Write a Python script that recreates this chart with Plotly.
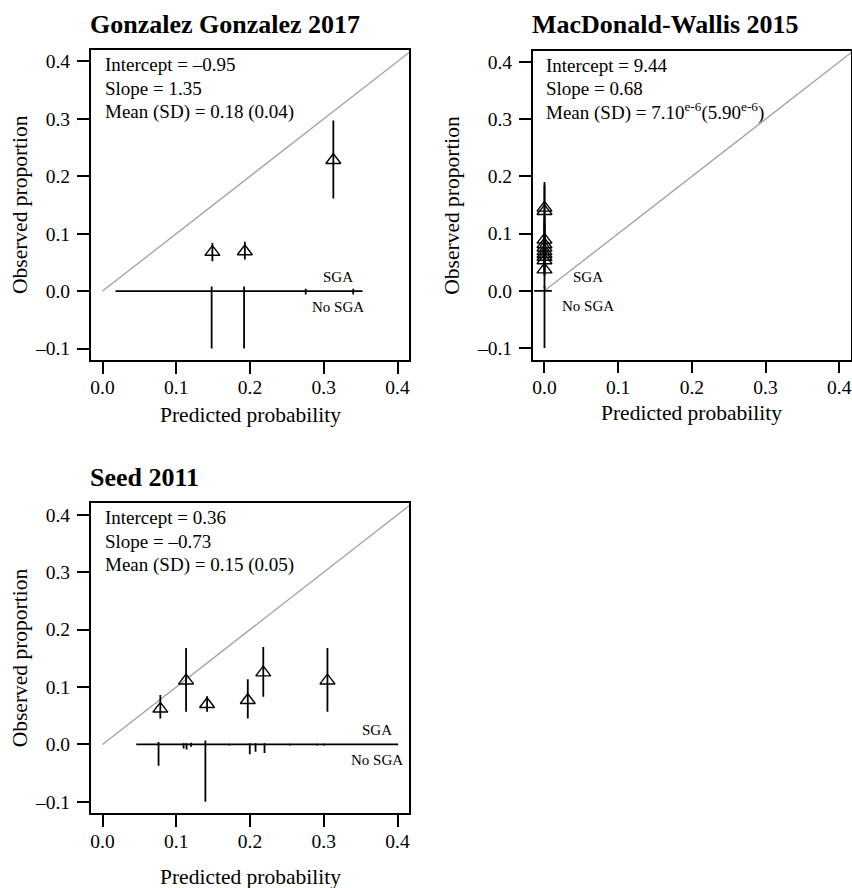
import plotly.graph_objects as go

W, H = 852, 888
FONT = "Liberation Serif"

# ---------------- data ----------------
panel_titles = ["Gonzalez Gonzalez 2017", "MacDonald-Wallis 2015", "Seed 2011"]

# Gonzalez Gonzalez 2017
gg_pred = [0.149, 0.193, 0.313]
gg_obs = [0.068, 0.069, 0.228]
gg_hi = [0.084, 0.086, 0.297]
gg_lo = [0.052, 0.055, 0.1615]
gg_spike_x = [0.148, 0.192, 0.2755, 0.340]
gg_spike_sga = [0.008, 0.008, 0.004, 0.004]
gg_spike_nosga = [-0.100, -0.100, -0.006, -0.006]
gg_base = [0.0177, 0.3525]
gg_stats = ["Intercept = \u20130.95", "Slope = 1.35", "Mean (SD) = 0.18 (0.04)"]
gg_lab_x = 0.3196

# MacDonald-Wallis 2015
mw_pred = [0.0000071] * 10
mw_obs = [0.145, 0.139, 0.089, 0.081, 0.075, 0.069, 0.064, 0.059, 0.053, 0.037]
mw_hi = [0.190, 0.185, 0.130, 0.120, 0.113, 0.106, 0.100, 0.094, 0.088, 0.070]
mw_lo = [0.110, 0.105, 0.058, 0.052, 0.046, 0.041, 0.036, 0.031, 0.026, 0.005]
mw_spike_x = [0.0]
mw_spike_sga = [0.008]
mw_spike_nosga = [-0.100]
mw_base = [-0.014, 0.010]
mw_stats = ["Intercept = 9.44", "Slope = 0.68",
            "Mean (SD) = 7.10<sup>e-6</sup>(5.90<sup>e-6</sup>)"]
mw_lab_x = 0.0594

# Seed 2011
sd_pred = [0.0784, 0.1133, 0.1418, 0.197, 0.218, 0.305]
sd_obs = [0.062, 0.111, 0.070, 0.077, 0.125, 0.111]
sd_hi = [0.086, 0.168, 0.084, 0.1135, 0.1696, 0.168]
sd_lo = [0.045, 0.057, 0.057, 0.045, 0.083, 0.057]
sd_spike_x = [0.076, 0.110, 0.114, 0.120, 0.1395, 0.172, 0.1997, 0.2075,
              0.2197, 0.254, 0.291, 0.300]
sd_spike_sga = [0.004, 0.002, 0.002, 0.003, 0.007, 0.001, 0.002, 0.002,
                0.002, 0.001, 0.001, 0.001]
sd_spike_nosga = [-0.037, -0.007, -0.009, -0.004, -0.100, -0.002, -0.017,
                  -0.013, -0.015, -0.002, -0.002, -0.002]
sd_base = [0.0458, 0.401]
sd_stats = ["Intercept = 0.36", "Slope = \u20130.73", "Mean (SD) = 0.15 (0.05)"]
sd_lab_x = 0.3716

tick_vals_x = [0.0, 0.1, 0.2, 0.3, 0.4]
tick_text_x = ["0.0", "0.1", "0.2", "0.3", "0.4"]
tick_vals_y = [-0.1, 0.0, 0.1, 0.2, 0.3, 0.4]
tick_text_y = ["\u20130.1", "0.0", "0.1", "0.2", "0.3", "0.4"]

# ---------------- layout geometry (pixels) ----------------
# box: left, right, top, bottom
boxes = [(90.7, 409.3, 50.0, 360.0),
         (532.7, 851.0, 50.5, 359.5),
         (90.7, 409.3, 503.3, 813.3)]
title_y = [24.5, 24.5, 477.5]
ylab_x = [20.0, 451.7, 20.0]
xlab_y = [415.0, 413.3, 876.7]

panels = [
    (gg_pred, gg_obs, gg_hi, gg_lo, gg_spike_x, gg_spike_sga, gg_spike_nosga, gg_base, gg_stats, gg_lab_x),
    (mw_pred, mw_obs, mw_hi, mw_lo, mw_spike_x, mw_spike_sga, mw_spike_nosga, mw_base, mw_stats, mw_lab_x),
    (sd_pred, sd_obs, sd_hi, sd_lo, sd_spike_x, sd_spike_sga, sd_spike_nosga, sd_base, sd_stats, sd_lab_x),
]

XR = [-0.016, 0.416]
YR = [-0.12, 0.42]

fig = go.Figure()
annotations = []
layout_axes = {}

def px(x):
    return x / W

def py(y):
    return 1 - y / H

for i, (pred, obs, hi, lo, sx, sup, sdn, base, stats, labx) in enumerate(panels):
    n = i + 1
    xa = "x" if n == 1 else f"x{n}"
    ya = "y" if n == 1 else f"y{n}"
    xkey = "xaxis" if n == 1 else f"xaxis{n}"
    ykey = "yaxis" if n == 1 else f"yaxis{n}"
    l, r, t, b = boxes[i]

    common = dict(showgrid=False, zeroline=False, showline=True, mirror=True,
                  linecolor="black", linewidth=1.6, ticks="outside", ticklen=12,
                  tickwidth=1.6, tickcolor="black",
                  tickfont=dict(family=FONT, size=19.5, color="black"))
    layout_axes[xkey] = dict(common, domain=[px(l), px(r)], range=XR, anchor=ya,
                             tickvals=tick_vals_x, ticktext=tick_text_x,
                             ticklabelstandoff=-3)
    layout_axes[ykey] = dict(common, domain=[py(b), py(t)], range=YR, anchor=xa,
                             tickvals=tick_vals_y, ticktext=tick_text_y,
                             ticklabelstandoff=3)

    # ideal line
    fig.add_trace(go.Scatter(x=[0, 0.5], y=[0, 0.5], mode="lines",
                             line=dict(color="#a0a0a0", width=1.3),
                             xaxis=xa, yaxis=ya, showlegend=False, hoverinfo="skip"))
    # spike histogram baseline
    fig.add_trace(go.Scatter(x=base, y=[0, 0], mode="lines",
                             line=dict(color="black", width=1.8),
                             xaxis=xa, yaxis=ya, showlegend=False, hoverinfo="skip"))
    # spikes
    spx, spy = [], []
    for xv, u, d in zip(sx, sup, sdn):
        spx += [xv, xv, None]
        spy += [u, d, None]
    fig.add_trace(go.Scatter(x=spx, y=spy, mode="lines",
                             line=dict(color="black", width=1.8),
                             xaxis=xa, yaxis=ya, showlegend=False, hoverinfo="skip"))
    # points with CIs
    fig.add_trace(go.Scatter(
        x=pred, y=obs, mode="markers",
        marker=dict(symbol="triangle-up-open", size=13, color="black",
                    line=dict(color="black", width=1.4)),
        error_y=dict(type="data", symmetric=False,
                     array=[h - o for h, o in zip(hi, obs)],
                     arrayminus=[o - lo_ for o, lo_ in zip(obs, lo)],
                     width=0, thickness=1.8, color="black"),
        xaxis=xa, yaxis=ya, showlegend=False, hoverinfo="skip"))

    # stats text
    for k, s in enumerate(stats):
        annotations.append(dict(x=0.0, y=0.3946 - 0.041 * k, xref=xa, yref=ya,
                                text=s, showarrow=False, xanchor="left", yanchor="middle",
                                font=dict(family=FONT, size=19, color="black")))
    # SGA labels
    annotations.append(dict(x=labx, y=0.0245, xref=xa, yref=ya, text="SGA",
                            showarrow=False, xanchor="center", yanchor="middle",
                            font=dict(family=FONT, size=15, color="black")))
    annotations.append(dict(x=labx, y=-0.027, xref=xa, yref=ya, text="No SGA",
                            showarrow=False, xanchor="center", yanchor="middle",
                            font=dict(family=FONT, size=15, color="black")))
    # title
    annotations.append(dict(x=px(l), y=py(title_y[i]), xref="paper", yref="paper",
                            text=f"<b>{panel_titles[i]}</b>", showarrow=False,
                            xanchor="left", yanchor="middle", xshift=-3,
                            font=dict(family=FONT, size=26, color="black")))
    # axis titles
    annotations.append(dict(x=px(ylab_x[i]), y=py((t + b) / 2), xref="paper", yref="paper",
                            text="Observed proportion", textangle=-90, showarrow=False,
                            xanchor="center", yanchor="middle",
                            font=dict(family=FONT, size=21.5, color="black")))
    annotations.append(dict(x=px((l + r) / 2), y=py(xlab_y[i]), xref="paper", yref="paper",
                            text="Predicted probability", showarrow=False,
                            xanchor="center", yanchor="middle",
                            font=dict(family=FONT, size=21.5, color="black")))

fig.update_layout(
    width=W, height=H,
    margin=dict(l=0, r=0, t=0, b=0),
    paper_bgcolor="white", plot_bgcolor="white",
    annotations=annotations,
    **layout_axes,
)

fig.write_html(
    "out.html",
    config={"displayModeBar": False},
    post_script="document.body.style.margin='0px';"
                "document.documentElement.style.overflow='hidden';",
)
